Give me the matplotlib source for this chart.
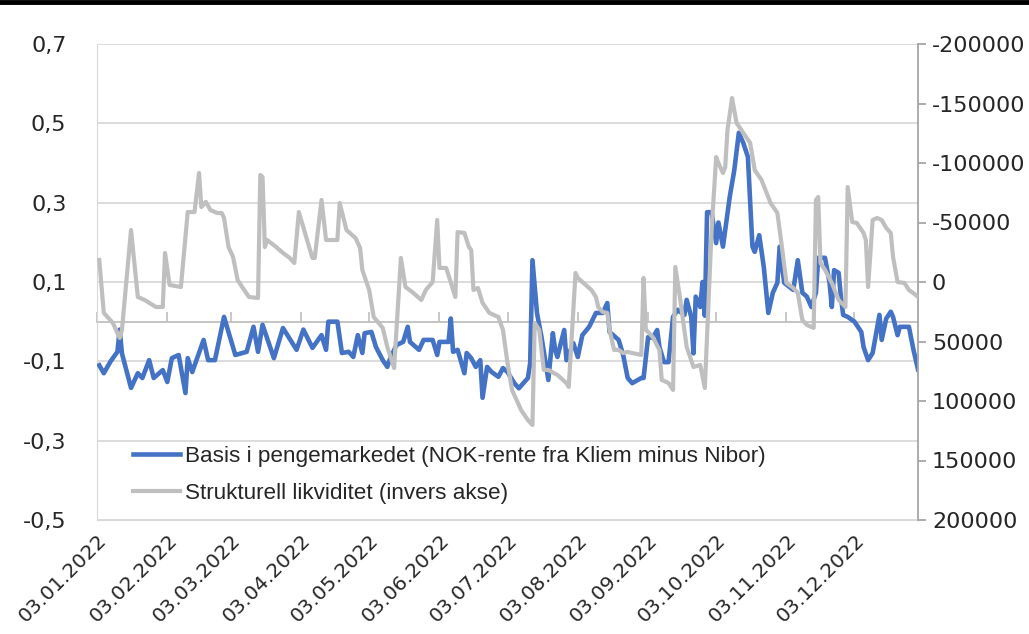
import matplotlib
matplotlib.use("Agg")
import matplotlib.pyplot as plt
import matplotlib.dates as mdates
from matplotlib.lines import Line2D
from matplotlib.ticker import FuncFormatter
import pandas as pd

# ---- data ----
basis_dates = [
    "2022-01-04", "2022-01-06", "2022-01-09", "2022-01-12", "2022-01-13", "2022-01-14", "2022-01-18",
    "2022-01-21", "2022-01-23", "2022-01-26", "2022-01-28", "2022-02-01", "2022-02-03", "2022-02-05",
    "2022-02-08", "2022-02-11", "2022-02-12", "2022-02-14", "2022-02-19", "2022-02-21", "2022-02-24",
    "2022-02-28", "2022-03-05", "2022-03-10", "2022-03-13", "2022-03-15", "2022-03-17", "2022-03-22",
    "2022-03-26", "2022-04-01", "2022-04-04", "2022-04-08", "2022-04-12", "2022-04-14", "2022-04-15",
    "2022-04-19", "2022-04-21", "2022-04-24", "2022-04-26", "2022-04-28", "2022-04-30", "2022-05-01",
    "2022-05-04", "2022-05-06", "2022-05-09", "2022-05-11", "2022-05-12", "2022-05-15", "2022-05-18",
    "2022-05-20", "2022-05-21", "2022-05-25", "2022-05-27", "2022-05-31", "2022-06-02", "2022-06-03",
    "2022-06-07", "2022-06-08", "2022-06-09", "2022-06-11", "2022-06-14", "2022-06-15", "2022-06-17",
    "2022-06-19", "2022-06-21", "2022-06-22", "2022-06-24", "2022-06-26", "2022-06-29", "2022-07-01",
    "2022-07-03", "2022-07-06", "2022-07-08", "2022-07-12", "2022-07-13", "2022-07-14", "2022-07-16",
    "2022-07-18", "2022-07-21", "2022-07-23", "2022-07-24", "2022-07-25", "2022-07-28", "2022-07-29",
    "2022-08-01", "2022-08-03", "2022-08-05", "2022-08-08", "2022-08-11", "2022-08-14", "2022-08-16",
    "2022-08-17", "2022-08-21", "2022-08-23", "2022-08-25", "2022-08-27", "2022-08-31", "2022-09-01",
    "2022-09-03", "2022-09-05", "2022-09-07", "2022-09-08", "2022-09-10", "2022-09-12", "2022-09-14",
    "2022-09-16", "2022-09-19", "2022-09-20", "2022-09-22", "2022-09-23", "2022-09-24", "2022-09-26",
    "2022-09-27", "2022-09-28", "2022-09-29", "2022-10-01", "2022-10-03", "2022-10-04", "2022-10-06",
    "2022-10-07", "2022-10-09", "2022-10-11", "2022-10-13", "2022-10-15", "2022-10-17", "2022-10-19",
    "2022-10-20", "2022-10-22", "2022-10-24", "2022-10-26", "2022-10-28", "2022-10-30", "2022-10-31",
    "2022-11-02", "2022-11-06", "2022-11-08", "2022-11-10", "2022-11-12", "2022-11-14", "2022-11-16",
    "2022-11-17", "2022-11-20", "2022-11-22", "2022-11-23", "2022-11-24", "2022-11-26", "2022-11-27",
    "2022-11-28", "2022-11-30", "2022-12-03", "2022-12-06", "2022-12-07", "2022-12-09", "2022-12-11",
    "2022-12-14", "2022-12-15", "2022-12-17", "2022-12-19", "2022-12-20", "2022-12-22", "2022-12-23",
    "2022-12-27", "2022-12-29", "2022-12-31",
]
basis_values = [
    -0.110, -0.130, -0.100, -0.076, -0.020, -0.080, -0.167,
    -0.130, -0.142, -0.097, -0.142, -0.122, -0.152, -0.092,
    -0.084, -0.180, -0.092, -0.127, -0.046, -0.097, -0.097,
    0.012, -0.084, -0.076, -0.013, -0.076, -0.008, -0.092,
    -0.016, -0.071, -0.020, -0.066, -0.034, -0.071, 0.000,
    0.000, -0.079, -0.076, -0.089, -0.034, -0.079, -0.029,
    -0.026, -0.064, -0.097, -0.114, -0.097, -0.059, -0.051,
    -0.013, -0.051, -0.071, -0.046, -0.046, -0.084, -0.051,
    -0.051, 0.008, -0.076, -0.071, -0.130, -0.079, -0.092,
    -0.114, -0.097, -0.192, -0.114, -0.127, -0.139, -0.117,
    -0.127, -0.155, -0.168, -0.142, -0.104, 0.155, 0.022,
    -0.039, -0.147, -0.029, -0.071, -0.089, -0.021, -0.097,
    -0.054, -0.089, -0.034, -0.013, 0.022, 0.022, 0.047,
    -0.026, -0.046, -0.084, -0.142, -0.155, -0.142, -0.142,
    -0.039, -0.041, -0.021, -0.064, -0.102, -0.102, 0.012,
    0.030, 0.017, 0.055, 0.012, -0.080, 0.063, 0.037,
    0.100, 0.015, 0.276, 0.276, 0.198, 0.250, 0.189,
    0.231, 0.315, 0.382, 0.476, 0.450, 0.415, 0.189,
    0.176, 0.218, 0.138, 0.022, 0.073, 0.098, 0.189,
    0.098, 0.080, 0.155, 0.073, 0.063, 0.037, 0.073,
    0.161, 0.161, 0.098, 0.037, 0.130, 0.123, 0.063,
    0.017, 0.012, 0.000, -0.026, -0.064, -0.097, -0.079,
    0.017, -0.046, 0.008, 0.025, 0.012, -0.034, -0.013,
    -0.013, -0.071, -0.120,
]

likv_dates = [
    "2022-01-04", "2022-01-06", "2022-01-10", "2022-01-13", "2022-01-14", "2022-01-18", "2022-01-21",
    "2022-01-24", "2022-01-29", "2022-02-01", "2022-02-02", "2022-02-04", "2022-02-09", "2022-02-12",
    "2022-02-15", "2022-02-17", "2022-02-18", "2022-02-20", "2022-02-22", "2022-02-25", "2022-02-27",
    "2022-02-28", "2022-03-02", "2022-03-04", "2022-03-06", "2022-03-08", "2022-03-11", "2022-03-15",
    "2022-03-16", "2022-03-17", "2022-03-18", "2022-03-19", "2022-03-23", "2022-03-26", "2022-03-29",
    "2022-03-31", "2022-04-02", "2022-04-06", "2022-04-08", "2022-04-09", "2022-04-12", "2022-04-14",
    "2022-04-19", "2022-04-20", "2022-04-23", "2022-04-27", "2022-04-29", "2022-04-30", "2022-05-03",
    "2022-05-05", "2022-05-09", "2022-05-11", "2022-05-14", "2022-05-17", "2022-05-19", "2022-05-22",
    "2022-05-26", "2022-05-28", "2022-05-31", "2022-06-02", "2022-06-03", "2022-06-06", "2022-06-10",
    "2022-06-11", "2022-06-14", "2022-06-16", "2022-06-17", "2022-06-18", "2022-06-20", "2022-06-22",
    "2022-06-25", "2022-06-29", "2022-07-01", "2022-07-03", "2022-07-05", "2022-07-09", "2022-07-12",
    "2022-07-14", "2022-07-15", "2022-07-17", "2022-07-19", "2022-07-21", "2022-07-25", "2022-07-29",
    "2022-07-30", "2022-08-02", "2022-08-03", "2022-08-05", "2022-08-09", "2022-08-11", "2022-08-12",
    "2022-08-14", "2022-08-16", "2022-08-17", "2022-08-19", "2022-08-21", "2022-08-23", "2022-08-25",
    "2022-08-27", "2022-08-31", "2022-09-01", "2022-09-02", "2022-09-03", "2022-09-05", "2022-09-08",
    "2022-09-09", "2022-09-12", "2022-09-14", "2022-09-15", "2022-09-17", "2022-09-20", "2022-09-23",
    "2022-09-26", "2022-09-28", "2022-10-01", "2022-10-03", "2022-10-04", "2022-10-06", "2022-10-07",
    "2022-10-08", "2022-10-10", "2022-10-12", "2022-10-15", "2022-10-18", "2022-10-20", "2022-10-23",
    "2022-10-27", "2022-10-30", "2022-11-01", "2022-11-03", "2022-11-06", "2022-11-08", "2022-11-10",
    "2022-11-12", "2022-11-15", "2022-11-16", "2022-11-17", "2022-11-18", "2022-11-20", "2022-11-23",
    "2022-11-26", "2022-11-29", "2022-11-30", "2022-12-02", "2022-12-04", "2022-12-07", "2022-12-08",
    "2022-12-09", "2022-12-11", "2022-12-13", "2022-12-15", "2022-12-17", "2022-12-19", "2022-12-20",
    "2022-12-22", "2022-12-25", "2022-12-27", "2022-12-30", "2022-12-31",
]
likv_values = [
    -18500, 26000, 34400, 47000, 40300, -43700, 12600,
    15100, 21000, 21000, -24400, 2500, 4200, -58800,
    -58800, -91600, -63000, -67300, -60500, -58000, -58000,
    -53800, -29400, -21000, -1700, 4200, 12600, 13400,
    -89900, -88200, -29400, -35300, -29400, -24400, -20200,
    -16000, -58800, -32800, -20200, -20200, -68900, -35300,
    -35300, -66400, -43700, -37000, -28600, -10100, 6700,
    29400, 38600, 54600, 72300, -20200, 4200, 8400,
    15100, 6700, 0, -52100, -11800, -11800, 12600,
    -42000, -41200, -29400, -26900, 6700, 5000, 17600,
    26000, 29400, 40300, 68100, 90700, 107600, 116000,
    120200, 34400, 40300, 73900, 73900, 78100, 84900,
    88200, -7600, -3400, 0, 6700, 12600, 21000,
    25200, 26000, 40300, 57100, 57100, 59700, 58800,
    59700, 61300, -3400, 40300, 42000, 46200, 57100,
    82300, 84900, 90700, -12600, 12600, 54600, 71400,
    69700, 89100, -43700, -105000, -100000, -91600, -96600,
    -127700, -154600, -133600, -125200, -116800, -94100, -85700,
    -66400, -58000, -29400, 800, 5000, 9200, 31900,
    36100, 38600, -68900, -71400, -16000, -10100, 800,
    15100, 21000, -79800, -50400, -49600, -41200, -35300,
    4200, -52100, -53800, -52100, -45400, -41200, -21000,
    0, 800, 6700, 10900, 12600,
]

xtick_dates = ["2022-01-03", "2022-02-03", "2022-03-03", "2022-04-03", "2022-05-03", "2022-06-03",
               "2022-07-03", "2022-08-03", "2022-09-03", "2022-10-03", "2022-11-03", "2022-12-03"]
xtick_labels = ["03.01.2022", "03.02.2022", "03.03.2022", "03.04.2022", "03.05.2022", "03.06.2022",
                "03.07.2022", "03.08.2022", "03.09.2022", "03.10.2022", "03.11.2022", "03.12.2022"]
left_ticks = [-0.5, -0.3, -0.1, 0.1, 0.3, 0.5, 0.7]
right_ticks = [-200000, -150000, -100000, -50000, 0, 50000, 100000, 150000, 200000]
legend_labels = ["Basis i pengemarkedet (NOK-rente fra Kliem minus Nibor)",
                 "Strukturell likviditet (invers akse)"]

# ---- figure ----
plt.rcParams["font.family"] = ["DejaVu Sans"]
BLUE = "#4472C4"
GRAY = "#BFBFBF"
GRID = "#D9D9D9"
TXT = "#262626"

fig = plt.figure(figsize=(10.29, 6.34), dpi=100)
ax = fig.add_axes([97 / 1029, 1 - 520 / 634, 821 / 1029, 476 / 634])
ax2 = ax.twinx()

bd = pd.to_datetime(basis_dates)
ld = pd.to_datetime(likv_dates)
ax.plot(bd, basis_values, color=BLUE, lw=3.3, solid_joinstyle="round", label=legend_labels[0], zorder=3)
ax2.plot(ld, likv_values, color=GRAY, lw=3.0, solid_joinstyle="round", label=legend_labels[1], zorder=3)

ax.set_xlim(pd.Timestamp("2022-01-03"), pd.Timestamp("2022-12-31"))
ax.set_ylim(-0.5, 0.7)
ax2.set_ylim(200000, -200000)

ax.set_yticks(left_ticks)
ax.yaxis.set_major_formatter(FuncFormatter(lambda v, p: f"{v:.1f}".replace(".", ",")))
ax2.set_yticks(right_ticks)
ax2.yaxis.set_major_formatter(FuncFormatter(lambda v, p: f"{int(round(v))}"))

ax.grid(axis="y", color=GRID, lw=1.3)
ax.grid(axis="x", visible=False)
ax.set_axisbelow(True)

xt = pd.to_datetime(xtick_dates)
ax.set_xticks(xt)
ax.set_xticklabels(xtick_labels, rotation=45, ha="right", va="top", rotation_mode="anchor")
ax.tick_params(axis="x", length=0, pad=8, labelsize=14.5, labelcolor=TXT)
ax.tick_params(axis="y", length=0, pad=22, labelsize=16, labelcolor=TXT)
ax2.tick_params(axis="y", length=6, width=1.3, color="#A6A6A6", direction="out", pad=4,
                labelsize=16, labelcolor=TXT)

for s in ["top"]:
    ax.spines[s].set_visible(False)
    ax2.spines[s].set_visible(False)
ax.spines["left"].set_color(GRID)
ax.spines["bottom"].set_color(GRID)
ax.spines["right"].set_visible(False)
ax2.spines["left"].set_visible(False)
ax2.spines["bottom"].set_visible(False)
ax2.spines["right"].set_color("#A6A6A6")
ax2.spines["right"].set_linewidth(1.3)

# zero line with month tick marks pointing up
sec = ax.secondary_xaxis(0.5 / 1.2)
sec.set_xticks(xt)
sec.tick_params(axis="x", direction="in", length=7, width=1.2, color="#BFBFBF", labelbottom=False)
sec.spines["bottom"].set_color("#BFBFBF")
sec.spines["bottom"].set_linewidth(1.3)

h = [Line2D([], [], color=BLUE, lw=3.3), Line2D([], [], color=GRAY, lw=3.0)]
leg = ax2.legend(h, legend_labels, loc="upper left", bbox_to_anchor=(0.044, 0.155), frameon=False,
                 prop={"family": ["Liberation Sans", "DejaVu Sans"], "size": 16.2},
                 handlelength=2.1, handletextpad=0.2, labelspacing=0.68, borderpad=0, borderaxespad=0)
for t in leg.get_texts():
    t.set_color(TXT)

fig.add_artist(Line2D([0, 1], [0.9975, 0.9975], color="black", lw=3.5, transform=fig.transFigure))

fig.savefig("out.png", dpi=100)
